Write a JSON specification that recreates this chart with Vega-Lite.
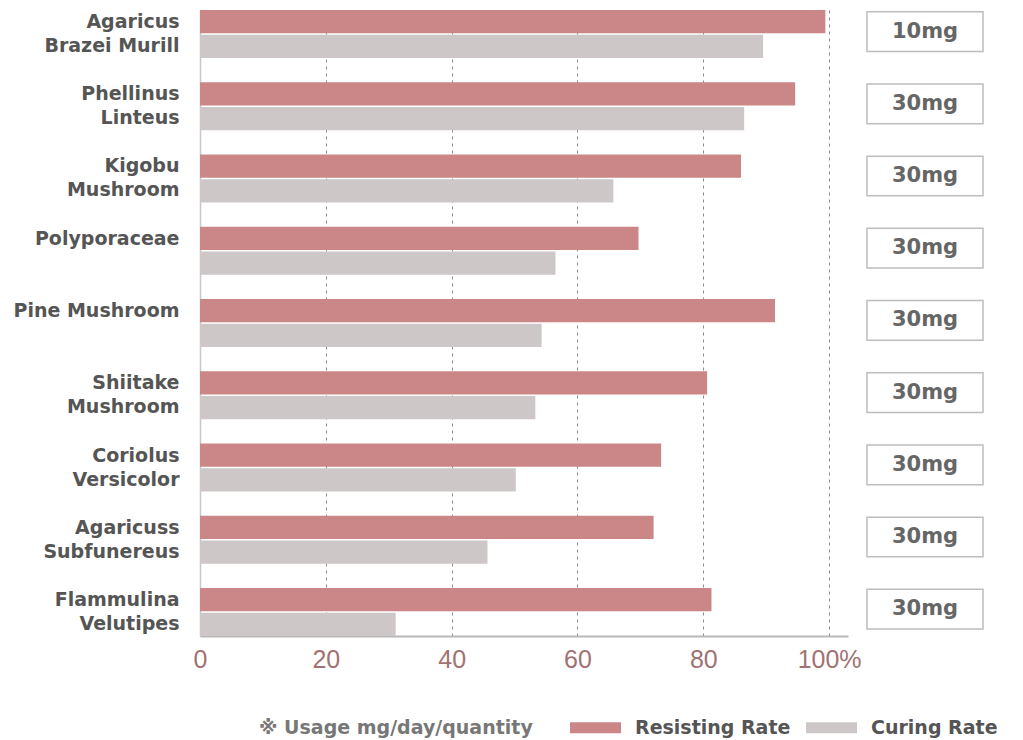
{
  "$schema": "https://vega.github.io/schema/vega-lite/v6.json",
  "padding": {"left": 12, "top": 10, "right": 5, "bottom": 5},
  "background": "white",
  "config": {"view": {"stroke": null}, "font": "DejaVu Sans", "legend": {"titleAnchor": "end", "titleBaseline": "bottom"}},
  "datasets": {
    "rates": [
      {"mushroom": "Agaricus|Brazei Murill", "series": "Resisting Rate", "value": 99.4},
      {"mushroom": "Agaricus|Brazei Murill", "series": "Curing Rate", "value": 89.5},
      {"mushroom": "Phellinus|Linteus", "series": "Resisting Rate", "value": 94.6},
      {"mushroom": "Phellinus|Linteus", "series": "Curing Rate", "value": 86.5},
      {"mushroom": "Kigobu|Mushroom", "series": "Resisting Rate", "value": 86.0},
      {"mushroom": "Kigobu|Mushroom", "series": "Curing Rate", "value": 65.7},
      {"mushroom": "Polyporaceae|", "series": "Resisting Rate", "value": 69.7},
      {"mushroom": "Polyporaceae|", "series": "Curing Rate", "value": 56.5},
      {"mushroom": "Pine Mushroom|", "series": "Resisting Rate", "value": 91.4},
      {"mushroom": "Pine Mushroom|", "series": "Curing Rate", "value": 54.3},
      {"mushroom": "Shiitake|Mushroom", "series": "Resisting Rate", "value": 80.6},
      {"mushroom": "Shiitake|Mushroom", "series": "Curing Rate", "value": 53.3},
      {"mushroom": "Coriolus|Versicolor", "series": "Resisting Rate", "value": 73.3},
      {"mushroom": "Coriolus|Versicolor", "series": "Curing Rate", "value": 50.2},
      {"mushroom": "Agaricuss|Subfunereus", "series": "Resisting Rate", "value": 72.1},
      {"mushroom": "Agaricuss|Subfunereus", "series": "Curing Rate", "value": 45.7},
      {"mushroom": "Flammulina|Velutipes", "series": "Resisting Rate", "value": 81.3},
      {"mushroom": "Flammulina|Velutipes", "series": "Curing Rate", "value": 31.1}
    ],
    "usage": [
      {"mushroom": "Agaricus|Brazei Murill", "usage": "10mg"},
      {"mushroom": "Phellinus|Linteus", "usage": "30mg"},
      {"mushroom": "Kigobu|Mushroom", "usage": "30mg"},
      {"mushroom": "Polyporaceae|", "usage": "30mg"},
      {"mushroom": "Pine Mushroom|", "usage": "30mg"},
      {"mushroom": "Shiitake|Mushroom", "usage": "30mg"},
      {"mushroom": "Coriolus|Versicolor", "usage": "30mg"},
      {"mushroom": "Agaricuss|Subfunereus", "usage": "30mg"},
      {"mushroom": "Flammulina|Velutipes", "usage": "30mg"}
    ]
  },
  "spacing": 4,
  "hconcat": [
    {
      "width": 648,
      "height": 626,
      "data": {"name": "rates"},
      "mark": {"type": "bar"},
      "encoding": {
        "y": {
          "field": "mushroom", "type": "nominal", "sort": null,
          "scale": {"paddingInner": 0.337, "paddingOuter": 0},
          "axis": {
            "title": null, "ticks": false, "labelPadding": 21,
            "labelExpr": "split(datum.label, '|')",
            "labelFont": "DejaVu Sans", "labelFontSize": 19, "labelFontWeight": "bold",
            "labelColor": "#555555", "labelLineHeight": 24, "labelBaseline": "middle",
            "labelOffset": -12,
            "domainColor": "#c8c8c8", "domainWidth": 1.5, "labelLimit": 300
          }
        },
        "yOffset": {
          "field": "series", "type": "nominal",
          "sort": ["Resisting Rate", "Curing Rate"],
          "scale": {"paddingInner": 0.06}
        },
        "x": {
          "field": "value", "type": "quantitative",
          "scale": {"domain": [0, 103], "nice": false},
          "axis": {
            "title": null, "ticks": false, "values": [0, 20, 40, 60, 80, 100],
            "labelExpr": "datum.value == 100 ? '100%' : datum.label",
            "labelFlush": false,
            "labelFont": "Liberation Sans", "labelFontSize": 25,
            "labelColor": "#a27272", "labelPadding": 11,
            "domainColor": "#b8b8b8", "domainWidth": 2,
            "grid": true, "gridDash": [3, 4], "gridColor": "#8a8a8a", "gridWidth": 1
          }
        },
        "color": {
          "field": "series", "type": "nominal",
          "scale": {"domain": ["Resisting Rate", "Curing Rate"], "range": ["#cb8787", "#cdc7c7"]},
          "legend": {
            "orient": "none", "legendX": 59, "legendY": 692,
            "direction": "horizontal",
            "title": "※ Usage  mg/day/quantity", "titleOrient": "left",
            "titleLimit": 500,
            "titleFont": "DejaVu Sans", "titleFontSize": 19, "titleFontWeight": "bold",
            "titleColor": "#777777", "titlePadding": 30,
            "labelFont": "DejaVu Sans", "labelFontSize": 19, "labelFontWeight": "bold",
            "labelColor": "#555555", "labelOffset": 14, "columnPadding": 15, "labelLimit": 300,
            "symbolType": "M-1,-0.22H1V0.22H-1Z", "symbolSize": 2600,
            "symbolStrokeWidth": 0, "symbolOpacity": 1
          }
        }
      }
    },
    {
      "width": 116,
      "height": 626,
      "data": {"name": "usage"},
      "layer": [
        {
          "mark": {"type": "bar", "fill": "white", "stroke": "#bdbdbd", "strokeWidth": 1.5},
          "encoding": {
            "y": {
              "field": "mushroom", "type": "nominal", "sort": null,
              "scale": {"paddingInner": 0.45, "paddingOuter": 0.06, "align": 0.2},
              "axis": null
            }
          }
        },
        {
          "mark": {"type": "text", "fontSize": 21, "fontWeight": "bold", "color": "#666666", "font": "DejaVu Sans"},
          "encoding": {
            "y": {"field": "mushroom", "type": "nominal", "sort": null, "axis": null},
            "text": {"field": "usage"}
          }
        }
      ]
    }
  ]
}
